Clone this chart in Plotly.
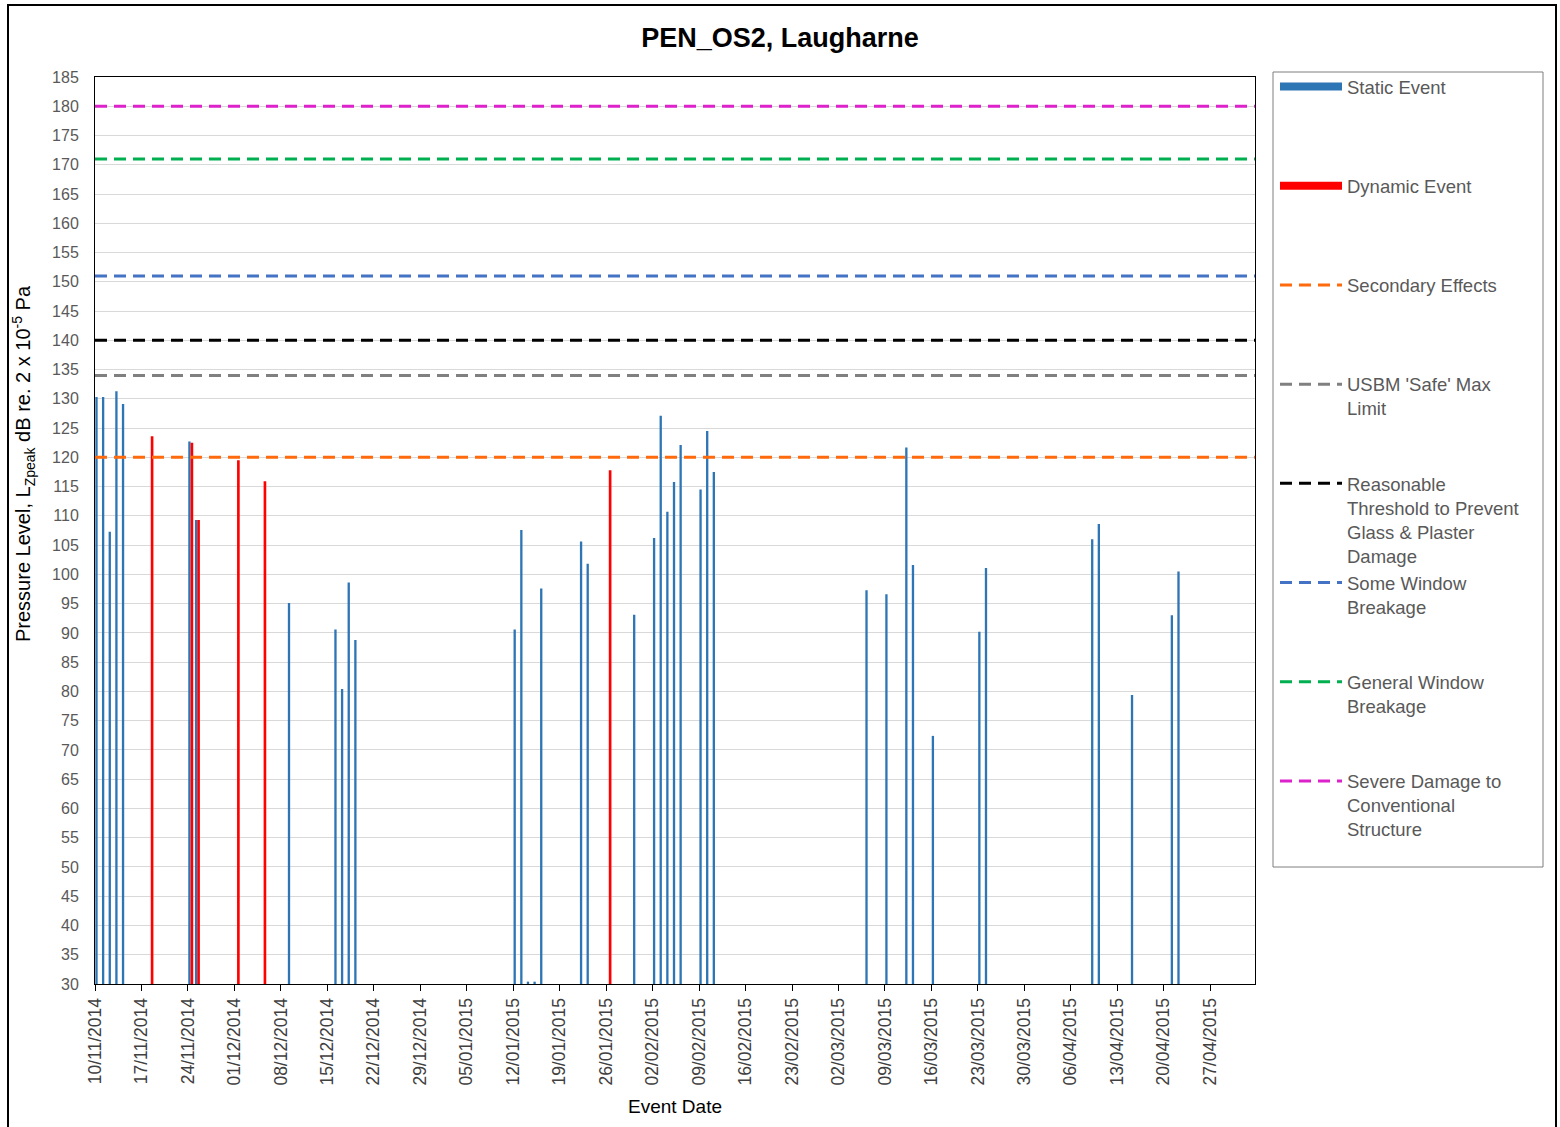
import plotly.graph_objects as go

# ---------------- data ----------------
static_dates = ["2014-11-10", "2014-11-11", "2014-11-12", "2014-11-13", "2014-11-14",
                "2014-11-24", "2014-11-25", "2014-12-09", "2014-12-16", "2014-12-17",
                "2014-12-18", "2014-12-19", "2015-01-12", "2015-01-13", "2015-01-14",
                "2015-01-15", "2015-01-16", "2015-01-22", "2015-01-23", "2015-01-30",
                "2015-02-02", "2015-02-03", "2015-02-04", "2015-02-05", "2015-02-06",
                "2015-02-09", "2015-02-10", "2015-02-11", "2015-03-06", "2015-03-09",
                "2015-03-12", "2015-03-13", "2015-03-16", "2015-03-23", "2015-03-24",
                "2015-04-09", "2015-04-10", "2015-04-15", "2015-04-21", "2015-04-22"]
static_values = [130.3, 130.3, 107.3, 131.3, 129.1,
                 122.7, 109.3, 95.1, 90.6, 80.4,
                 98.6, 88.8, 90.6, 107.6, 30.4,
                 30.4, 97.6, 105.6, 101.8, 93.1,
                 106.2, 127.1, 110.7, 115.8, 122.1,
                 114.5, 124.5, 117.5, 97.3, 96.6,
                 121.7, 101.6, 72.4, 90.2, 101.1,
                 106.0, 108.6, 79.4, 93.0, 100.5]

dynamic_dates = ["2014-11-18", "2014-11-24", "2014-11-25", "2014-12-01", "2014-12-05", "2015-01-26"]
dynamic_values = [123.6, 122.5, 109.3, 119.5, 115.9, 117.8]

threshold_names = ["Secondary Effects", "USBM 'Safe' Max<br>Limit",
                   "Reasonable<br>Threshold to Prevent<br>Glass & Plaster<br>Damage",
                   "Some Window<br>Breakage", "General Window<br>Breakage",
                   "Severe Damage to<br>Conventional<br>Structure"]
threshold_values = [120, 134, 140, 151, 171, 180]
threshold_colors = ["#FF6A0D", "#808080", "#000000", "#4472C4", "#00B050", "#DD22CC"]

AXIS_START = "2014-11-10"
AXIS_END = "2015-05-03 18:00"
Y_MIN, Y_MAX = 30, 185

STATIC_COLOR = "#2E75B6"
DYNAMIC_COLOR = "#FF0000"
DAY_MS = 86400000
FONT = "Arial, Liberation Sans, sans-serif"


def pad_lines(text, n=4):
    k = text.count("<br>") + 1
    return text + "<br> " * (n - k)


fig = go.Figure()

# bars (columns rising from the axis minimum)
fig.add_trace(go.Bar(x=static_dates, y=[v - Y_MIN for v in static_values], base=Y_MIN,
                     marker=dict(color=STATIC_COLOR, line=dict(width=0)),
                     width=0.35 * DAY_MS, offset=0.05 * DAY_MS,
                     name="Static Event", showlegend=False))
fig.add_trace(go.Bar(x=dynamic_dates, y=[v - Y_MIN for v in dynamic_values], base=Y_MIN,
                     marker=dict(color=DYNAMIC_COLOR, line=dict(width=0)),
                     width=0.4 * DAY_MS, offset=0.4 * DAY_MS,
                     name="Dynamic Event", showlegend=False))

# legend entries for the bars
fig.add_trace(go.Scatter(x=[None], y=[None], mode="lines",
                         line=dict(color=STATIC_COLOR, width=8),
                         name=pad_lines("Static Event"), legendgroup="g1"))
fig.add_trace(go.Scatter(x=[None], y=[None], mode="lines",
                         line=dict(color=DYNAMIC_COLOR, width=8),
                         name=pad_lines("Dynamic Event"), legendgroup="g2"))

# threshold lines
for i, (nm, val, col) in enumerate(zip(threshold_names, threshold_values, threshold_colors)):
    fig.add_trace(go.Scatter(x=[AXIS_START, AXIS_END], y=[val, val], mode="lines",
                             line=dict(color=col, width=3, dash="12px,7px"),
                             name=pad_lines(nm), legendgroup="t%d" % i,
                             hoverinfo="skip"))

L, R, T, B = 95, 305, 77, 143
W, H = 1560, 1127
pw, ph = W - L - R, H - T - B


def px_to_paper_x(px):
    return (px - L) / pw


def px_to_paper_y(py):
    return (H - B - py) / ph


fig.update_layout(
    width=W, height=H,
    margin=dict(l=L, r=R, t=T, b=B),
    paper_bgcolor="white", plot_bgcolor="white",
    font=dict(family=FONT, color="#595959"),
    barmode="overlay",
    title=dict(text="<b>PEN_OS2, Laugharne</b>", x=0.5, xref="container",
               y=1 - 38 / H, yanchor="middle",
               font=dict(size=27, color="#000000", family=FONT)),
    xaxis=dict(type="date", range=[AXIS_START, AXIS_END],
               tick0=AXIS_START, dtick=7 * DAY_MS, tickformat="%d/%m/%Y",
               tickangle=-90, tickfont=dict(size=17.5, color="#404040"),
               ticks="outside", ticklen=6, tickcolor="#000000",
               showline=True, linecolor="#000000", linewidth=1, mirror=True,
               showgrid=False, zeroline=False,
               title=dict(text="Event Date", standoff=15,
                          font=dict(size=19, color="#000000"))),
    yaxis=dict(range=[Y_MIN, Y_MAX], dtick=5, tick0=30,
               tickfont=dict(size=16, color="#595959"),
               showline=True, linecolor="#000000", linewidth=1, mirror=True,
               showgrid=True, gridcolor="#D9D9D9", gridwidth=1, zeroline=False,
               ticks="", ticklabelstandoff=12),
    annotations=[dict(text="Pressure Level, L<sub>Zpeak</sub> dB re. 2 x 10<sup>-5</sup> Pa",
                      textangle=-90, xref="paper", yref="paper",
                      x=px_to_paper_x(23), y=px_to_paper_y(464),
                      xanchor="center", yanchor="middle", showarrow=False,
                      font=dict(size=20, color="#000000", family=FONT))],
    legend=dict(x=px_to_paper_x(1275), y=px_to_paper_y(68), xanchor="left", yanchor="top",
                borderwidth=0, bgcolor="rgba(0,0,0,0)",
                font=dict(size=18.5, color="#595959", family=FONT),
                traceorder="grouped", tracegroupgap=0, valign="top", itemwidth=62,
                maxheight=1000),
    shapes=[dict(type="rect", xref="paper", yref="paper",
                 x0=px_to_paper_x(8), x1=px_to_paper_x(1556),
                 y0=px_to_paper_y(1135), y1=px_to_paper_y(5),
                 line=dict(color="#000000", width=2), fillcolor="rgba(0,0,0,0)",
                 layer="below"),
            dict(type="rect", xref="paper", yref="paper",
                 x0=px_to_paper_x(1273), x1=px_to_paper_x(1543),
                 y0=px_to_paper_y(867), y1=px_to_paper_y(72),
                 line=dict(color="#7F7F7F", width=1), fillcolor="rgba(0,0,0,0)",
                 layer="below")],
)

fig.write_html("out.html")
